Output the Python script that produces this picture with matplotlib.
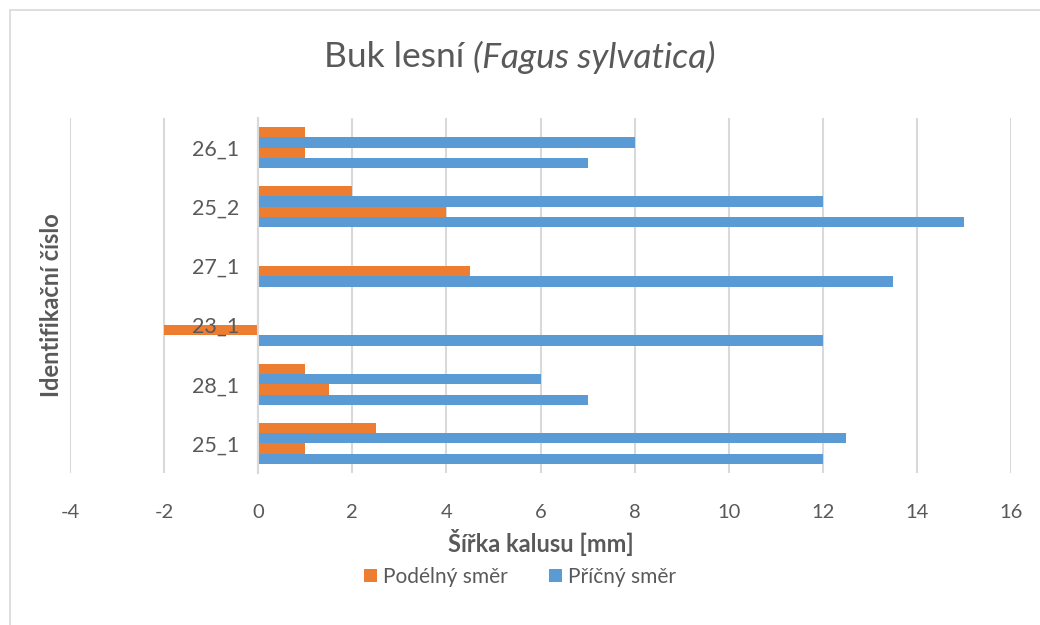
import numpy as np
import matplotlib
matplotlib.use('Agg')
import matplotlib.pyplot as plt
from matplotlib.patches import Rectangle

plt.rcParams['font.family'] = ['Lato', 'DejaVu Sans']
plt.rcParams['axes.unicode_minus'] = False

categories = ['25_1', '28_1', '23_1', '27_1', '25_2', '26_1']
# four series, bottom to top inside each group
pricny_1 = [12, 7, 12, 13.5, 15, 7]
podelny_1 = [1, 1.5, -2, 4.5, 4, 1]
pricny_2 = [12.5, 6, np.nan, np.nan, 12, 8]
podelny_2 = [2.5, 1, np.nan, np.nan, 2, 1]

orange = '#ED7D31'
blue = '#5B9BD5'
grey = '#595959'

fig = plt.figure(figsize=(10.4, 6.25), dpi=100)
ax = fig.add_axes([70/1040, 1 - 473/625, (1011 - 70)/1040, 355/625])

y = np.arange(len(categories))
h = 0.175
series = [(pricny_1, blue), (podelny_1, orange), (pricny_2, blue), (podelny_2, orange)]
bars = []
for i, (vals, col) in enumerate(series):
    b = ax.barh(y + (i - 1.5) * h, vals, height=h, color=col, zorder=2)
    bars.append(b)

ax.set_xlim(-4, 16)
ax.set_ylim(-0.5, 5.5)
ax.set_xticks(np.arange(-4, 17, 2))
ax.set_yticks(y)
ax.set_yticklabels(categories)
ax.grid(axis='x', color='#d9d9d9', linewidth=1.5)
ax.set_axisbelow(True)
ax.yaxis.set_zorder(5)

for s in ['top', 'right', 'bottom']:
    ax.spines[s].set_visible(False)
ax.spines['left'].set_position(('data', 0))
ax.spines['left'].set_color('#d9d9d9')
ax.spines['left'].set_linewidth(1.5)
ax.tick_params(axis='both', length=0, colors=grey)
ax.tick_params(axis='x', pad=22, labelsize=14.5)
ax.tick_params(axis='y', pad=14, labelsize=15.5)

ax.set_xlabel('Šířka kalusu [mm]', fontsize=17, fontweight='bold', color=grey, labelpad=6)
fig.text(52/1040, 1 - 305/625, 'Identifikační číslo', rotation=90, fontsize=17,
         fontweight='bold', color=grey, ha='center', va='center')

# title: upright part + italic part, centred together
ty = 1 - 57/625
t1 = fig.text(0.5, ty, 'Buk lesní ', fontsize=25.5, color=grey, ha='left', va='center')
t2 = fig.text(0.5, ty, '(Fagus sylvatica)', fontsize=25.5, color=grey, style='italic',
              ha='left', va='center')
r = fig.canvas.get_renderer()
w1 = t1.get_window_extent(r).width / fig.bbox.width
w2 = t2.get_window_extent(r).width / fig.bbox.width
x0 = 0.5 - (w1 + w2) / 2
t1.set_x(x0)
t2.set_x(x0 + w1)

fig.legend([bars[1], bars[0]], ['Podélný směr', 'Příčný směr'], loc='center',
           bbox_to_anchor=(0.5, 1 - 577/625), ncol=2, frameon=False, fontsize=15,
           labelcolor=grey, handlelength=0.6, handleheight=0.6, columnspacing=2.0,
           handletextpad=0.3)

fig.patches.append(Rectangle((10/1040, -0.1), 1.2, 1 - 10/625 + 0.1,
                             transform=fig.transFigure, fill=False,
                             edgecolor='#d9d9d9', linewidth=1.2))

fig.savefig('out.png', dpi=100)
